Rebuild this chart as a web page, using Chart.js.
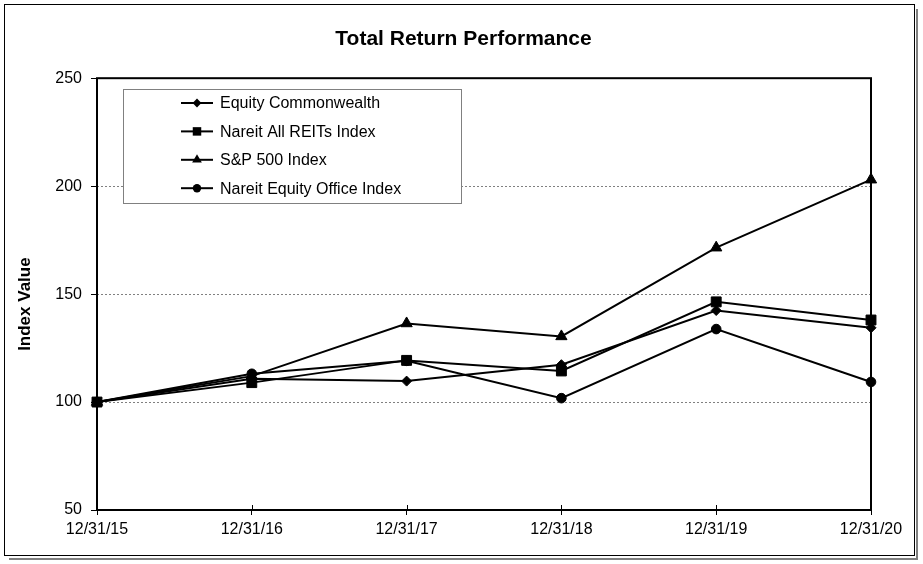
<!DOCTYPE html>
<html>
<head>
<meta charset="utf-8">
<script src="https://cdn.jsdelivr.net/npm/chart.js@4/dist/chart.umd.min.js"></script>
<style>
html,body{margin:0;padding:0;background:#fff;}
#wrap{width:923px;height:564px;position:relative;}
</style>
</head>
<body>
<div id="wrap"><canvas id="c" width="923" height="564"></canvas></div>
<script>
const categories = ['12/31/15','12/31/16','12/31/17','12/31/18','12/31/19','12/31/20'];
const equityCommonwealth = [100, 110.8, 109.7, 117.3, 142.4, 134.4];
const nareitAllReits = [100, 109.0, 119.3, 114.4, 146.4, 138.0];
const sp500 = [100, 112.0, 136.4, 130.4, 171.5, 203.0];
const nareitOffice = [100, 113.1, 119.1, 101.8, 133.8, 109.3];
const seriesNames = ['Equity Commonwealth','Nareit All REITs Index','S&P 500 Index','Nareit Equity Office Index'];
const yTicks = [50, 100, 150, 200, 250];

const FONT = "'Liberation Sans', Arial, sans-serif";
Chart.defaults.font.family = FONT;
Chart.defaults.color = '#000';

const styles = [
  {pointStyle:'rectRot', r:5.0, lr:4.4},
  {pointStyle:'rect', r:7.0, lr:6.0},
  {pointStyle:'triangle', r:6.5, lr:5.6},
  {pointStyle:'circle', r:4.8, lr:4.2}
];
const values = [equityCommonwealth, nareitAllReits, sp500, nareitOffice];

const datasets = values.map((v,i)=>({
  label: seriesNames[i],
  data: v,
  borderColor:'#000',
  backgroundColor:'#000',
  borderWidth:2,
  pointStyle: styles[i].pointStyle,
  pointRadius: styles[i].r,
  pointBorderWidth:1,
  pointBackgroundColor:'#000',
  pointBorderColor:'#000',
  tension:0,
  clip:false
}));

function drawMarker(ctx, style, x, y, r){
  ctx.beginPath();
  if(style==='rectRot'){
    ctx.moveTo(x-r,y);ctx.lineTo(x,y-r);ctx.lineTo(x+r,y);ctx.lineTo(x,y+r);ctx.closePath();
  } else if(style==='rect'){
    const s=Math.SQRT1_2*r; ctx.rect(x-s,y-s,2*s,2*s);
  } else if(style==='triangle'){
    ctx.moveTo(x,y-r);
    ctx.lineTo(x+Math.sin(2*Math.PI/3)*r, y+r/2);
    ctx.lineTo(x-Math.sin(2*Math.PI/3)*r, y+r/2);
    ctx.closePath();
  } else {
    ctx.arc(x,y,r,0,Math.PI*2);
  }
  ctx.fill();
}

function shiftDraw(obj, method, dx, dy){
  if(!obj || obj['__shifted_'+method]) return;
  const orig = obj[method];
  obj[method] = function(...args){
    const ctx = this.ctx || (this.chart && this.chart.ctx);
    ctx.save(); ctx.translate(dx, dy);
    const r = orig.apply(this, args);
    ctx.restore();
    return r;
  };
  obj['__shifted_'+method] = true;
}

const framePlugin = {
  id:'frame',
  afterLayout(chart){
    // Centre the chart title over the full frame, and the y title like the original
    shiftDraw(chart.titleBlock, 'draw', 28, 2);
    shiftDraw(chart.scales.y, 'drawTitle', 0, 10);
  },
  beforeDraw(chart){
    const ctx=chart.ctx;
    ctx.save();
    ctx.fillStyle='#fff';ctx.fillRect(0,0,chart.width,chart.height);
    ctx.strokeStyle='#7f7f7f';ctx.lineWidth=2;
    ctx.beginPath();
    ctx.moveTo(917,9);ctx.lineTo(917,559);ctx.lineTo(9,559);
    ctx.stroke();
    ctx.strokeStyle='#000';ctx.lineWidth=1;
    ctx.strokeRect(4.5,4.5,910,551);
    ctx.restore();
  },
  beforeDatasetsDraw(chart){
    const ctx=chart.ctx, a=chart.chartArea;
    ctx.save();
    ctx.strokeStyle='#000';ctx.lineWidth=2;
    ctx.strokeRect(a.left,a.top,a.right-a.left,a.bottom-a.top);
    const xs=chart.scales.x;
    ctx.lineWidth=1;
    ctx.beginPath();
    for(let i=0;i<categories.length;i++){
      const px=Math.round(xs.getPixelForValue(i))+0.5;
      ctx.moveTo(px,a.bottom);ctx.lineTo(px,a.bottom-5);
    }
    ctx.stroke();
    ctx.restore();
  },
  afterDraw(chart){
    const ctx=chart.ctx;
    ctx.save();
    const bx=123.5, by=89.5, bw=338, bh=114;
    ctx.fillStyle='#fff';ctx.fillRect(bx,by,bw,bh);
    ctx.strokeStyle='#808080';ctx.lineWidth=1;ctx.strokeRect(bx,by,bw,bh);
    ctx.font='16px '+FONT;ctx.textBaseline='middle';ctx.textAlign='left';
    chart.data.datasets.forEach((ds,i)=>{
      const y=103+i*28.4;
      ctx.strokeStyle='#000';ctx.lineWidth=2;
      ctx.beginPath();ctx.moveTo(181,y);ctx.lineTo(213,y);ctx.stroke();
      ctx.fillStyle='#000';
      drawMarker(ctx, styles[i].pointStyle, 197, y, styles[i].lr);
      ctx.fillText(ds.label,220,y+1);
    });
    ctx.restore();
  }
};

new Chart(document.getElementById('c'),{
  type:'line',
  data:{labels:categories, datasets},
  options:{
    responsive:false,
    animation:false,
    layout:{padding:{left:0,right:52,top:0,bottom:0}},
    plugins:{
      legend:{display:false},
      tooltip:{enabled:false},
      title:{display:true,text:'Total Return Performance',color:'#000',
        font:{family:FONT,size:21,weight:'bold'},padding:{top:25,bottom:28}}
    },
    scales:{
      x:{
        type:'category',
        offset:false,
        afterFit(s){s.height=54;},
        grid:{display:true,drawOnChartArea:false,drawTicks:true,tickLength:5,color:'#000',lineWidth:1},
        border:{display:false},
        ticks:{font:{family:FONT,size:16},color:'#000',padding:5,maxRotation:0,autoSkip:false}
      },
      y:{
        min:50,max:250,
        afterFit(s){s.width=97;},
        afterBuildTicks(s){s.ticks=yTicks.map(v=>({value:v}));},
        grid:{
          color:(c)=>(c.tick && (c.tick.value===100||c.tick.value===150||c.tick.value===200))?'#808080':'rgba(0,0,0,0)',
          tickColor:'#000',tickLength:6,lineWidth:1,drawTicks:true
        },
        border:{display:false,dash:[2,2]},
        ticks:{font:{family:FONT,size:16},color:'#000',padding:9},
        title:{display:true,text:'Index Value',color:'#000',font:{family:FONT,size:17,weight:'bold'},padding:{top:15,bottom:0}}
      }
    }
  },
  plugins:[framePlugin]
});
</script>
</body>
</html>
